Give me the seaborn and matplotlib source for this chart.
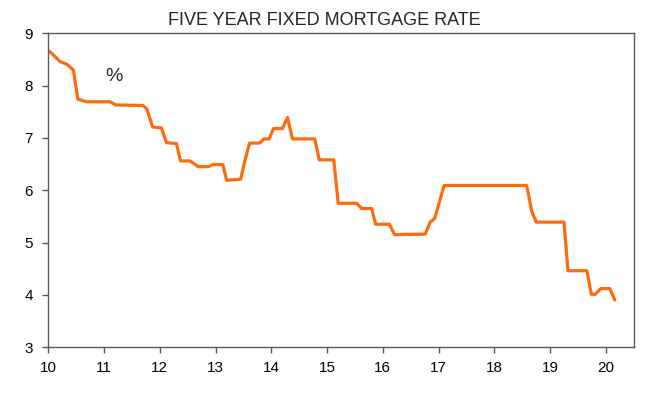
import numpy as np
import pandas as pd

import matplotlib
matplotlib.use('Agg')
import matplotlib.pyplot as plt
import seaborn as sns

# decimal year and five year fixed rate (%)
year = [10.03, 10.21, 10.33, 10.45, 10.53, 10.69, 11.11, 11.21, 11.70, 11.77,
        11.87, 12.03, 12.12, 12.30, 12.37, 12.54, 12.69, 12.87, 12.96, 13.13,
        13.20, 13.45, 13.53, 13.61, 13.79, 13.87, 13.96, 14.04, 14.20, 14.29,
        14.38, 14.78, 14.86, 15.12, 15.20, 15.53, 15.62, 15.80, 15.87, 16.12,
        16.21, 16.76, 16.85, 16.93, 17.01, 17.10, 18.58, 18.67, 18.75, 19.25,
        19.32, 19.66, 19.74, 19.81, 19.91, 20.07, 20.16]
rate = [8.65, 8.46, 8.41, 8.30, 7.74, 7.69, 7.69, 7.63, 7.62, 7.55,
        7.21, 7.19, 6.91, 6.89, 6.56, 6.56, 6.45, 6.45, 6.49, 6.49,
        6.19, 6.21, 6.58, 6.90, 6.90, 6.98, 6.98, 7.18, 7.18, 7.39,
        6.98, 6.98, 6.58, 6.58, 5.75, 5.75, 5.65, 5.65, 5.35, 5.35,
        5.15, 5.16, 5.39, 5.46, 5.76, 6.09, 6.09, 5.60, 5.39, 5.39,
        4.46, 4.46, 4.01, 4.01, 4.12, 4.12, 3.90]

xticks = list(range(10, 21))
yticks = list(range(3, 10))

df = pd.DataFrame({'year': year, 'rate': rate})

sns.set_style('white')
plt.rcParams['font.family'] = ['Liberation Sans', 'DejaVu Sans']

fig = plt.figure(figsize=(6.48, 3.94), dpi=100)
ax = fig.add_axes([0.0745, 0.119, 0.9035, 0.7965])

sns.lineplot(data=df, x='year', y='rate', ax=ax, color='#ff6a0d', linewidth=2.3)

ax.set_xlim(10, 20.5)
ax.set_ylim(3, 9)
ax.set_xticks(xticks)
ax.set_yticks(yticks)
ax.set_xlabel('')
ax.set_ylabel('')
ax.tick_params(axis='both', direction='out', length=4, width=1, color='#595959',
               labelsize=11, labelcolor='black', bottom=True, left=True)
ax.tick_params(axis='x', pad=6)
ax.tick_params(axis='y', pad=7)
for s in ax.spines.values():
    s.set_color('#595959')
    s.set_linewidth(1)

ax.text(11.18, 8.18, '%', fontsize=14, ha='center', va='center')
fig.text(0.5, 0.948, 'FIVE YEAR FIXED MORTGAGE RATE', fontsize=13, ha='center', va='center')

fig.savefig('out.png', dpi=100)
